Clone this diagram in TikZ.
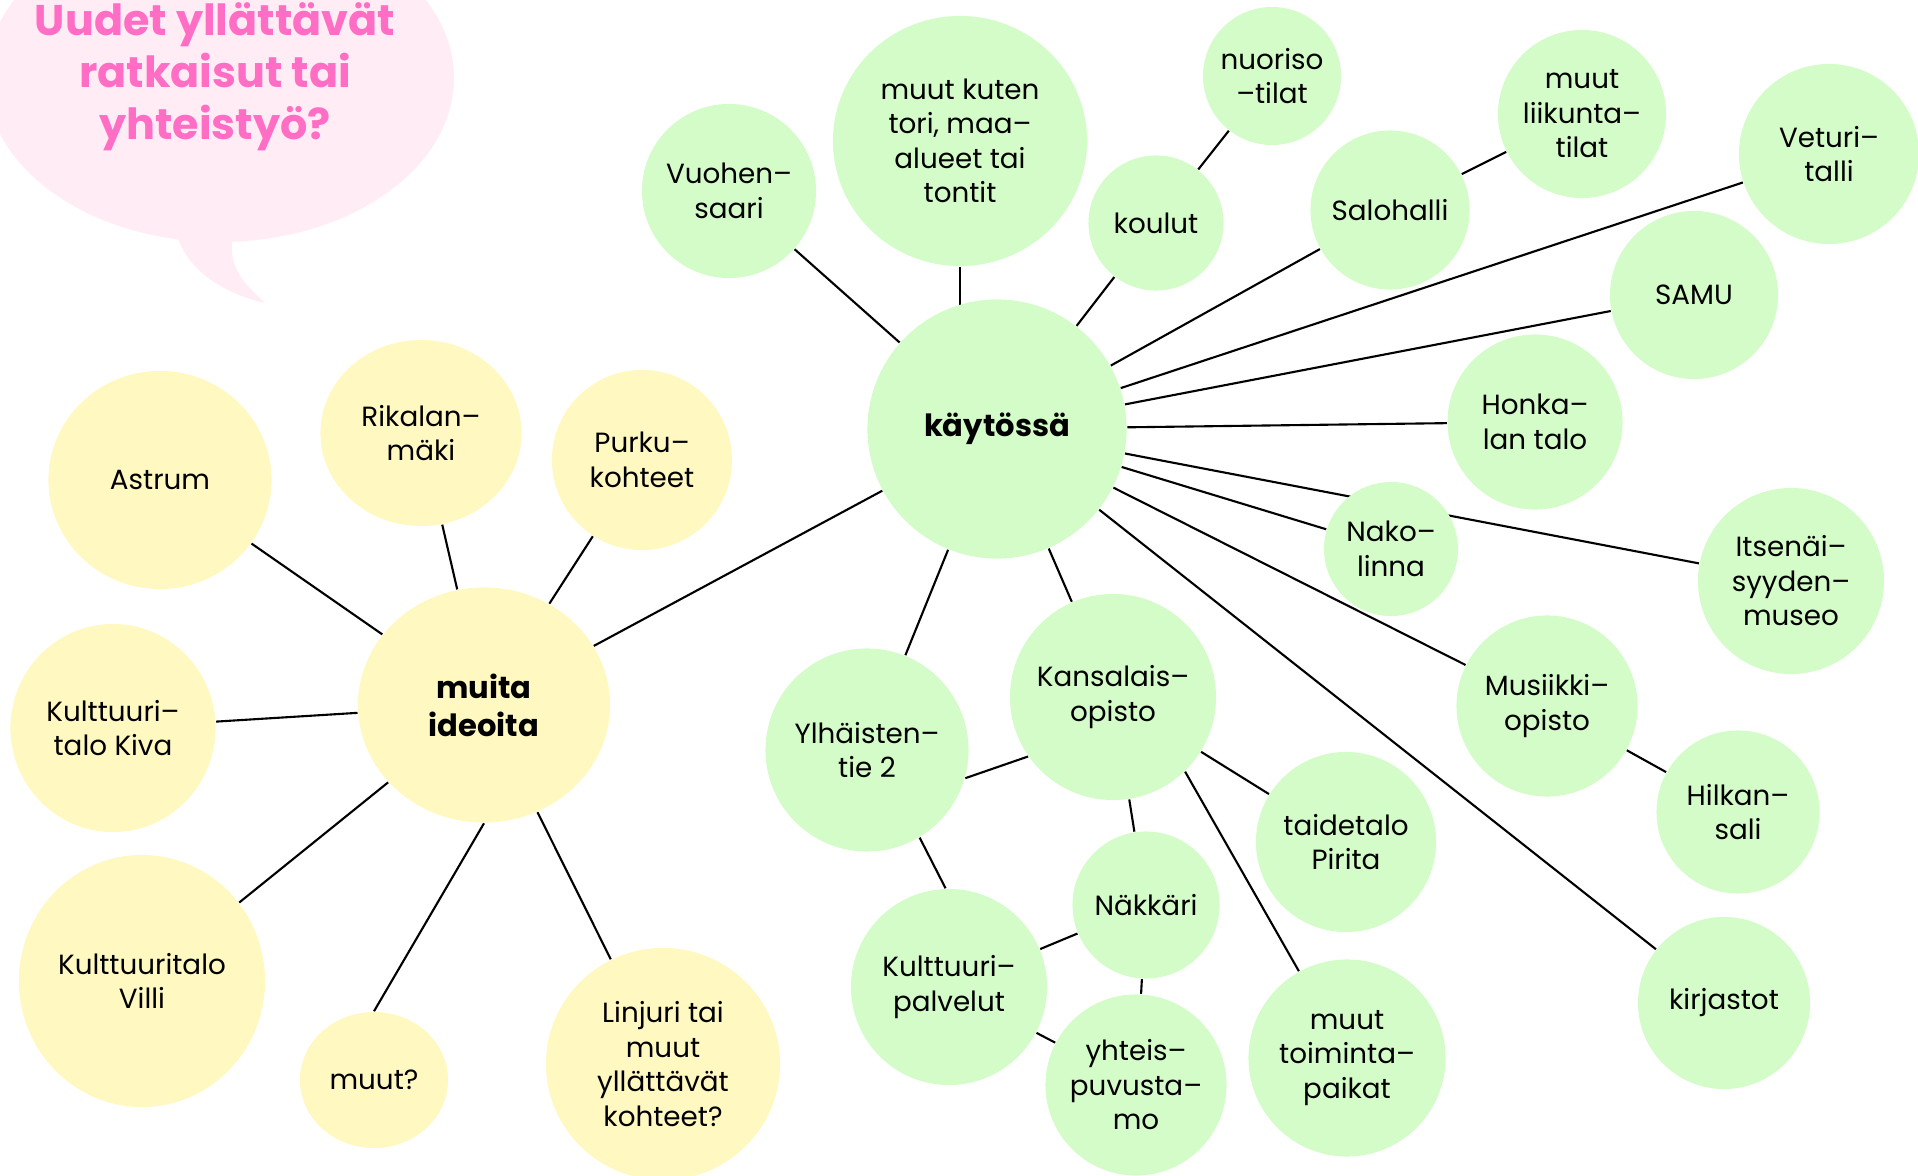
\documentclass[tikz,border=0pt]{standalone}
\usepackage{fontspec}
\setmainfont{Poppins}
\usetikzlibrary{shapes.geometric}
\pgfdeclarelayer{background}
\pgfsetlayers{background,main}

\definecolor{ballgreen}{RGB}{212,252,200}
\definecolor{ballyellow}{RGB}{255,248,192}
\definecolor{bubblepink}{RGB}{255,236,244}
\definecolor{titlepink}{RGB}{255,110,196}

\tikzset{
    ball/.style={ellipse, inner sep=-3pt, align=center, font=\fontsize{7.9}{9.8}\selectfont},
    gr/.style={ball, fill=ballgreen},
    yl/.style={ball, fill=ballyellow},
    hub/.style={font=\fontsize{8.7}{10.8}\selectfont\bfseries},
    link/.style={line width=0.6pt, black}
}

\begin{document}
\begin{tikzpicture}[x=0.01cm, y=-0.01cm]
        \useasboundingbox (0,0) rectangle (1918,1176);
        \clip (0,0) rectangle (1918,1176);

        % speech bubble
        \fill[bubblepink] (220,78) ellipse [x radius=234, y radius=164];
        \fill[bubblepink] (177,236) .. controls (190,275) and (230,295) .. (265,303)
            .. controls (240,280) and (228,265) .. (233,236) -- cycle;
        \node[align=center, text=titlepink, inner sep=0pt,
              font=\fontsize{12.2}{14.8}\selectfont\bfseries] (title) at (215,77)
            {Uudet yllättävät\\ratkaisut tai\\yhteistyö?};

        % muita ideoita
        \node[yl, hub, minimum width=2.52cm, minimum height=2.35cm] (muita) at (484,705) {muita\\ideoita};
        \node[yl, minimum width=2.23cm, minimum height=2.18cm] (astr) at (160,480) {Astrum};
        \node[yl, minimum width=2.01cm, minimum height=1.86cm] (rika) at (421,433) {Rikalan–\\mäki};
        \node[yl, minimum size=1.80cm] (purk) at (642,460) {Purku–\\kohteet};
        \node[yl, minimum width=2.05cm, minimum height=2.08cm] (kiva) at (113,728) {Kulttuuri–\\talo Kiva};
        \node[yl, minimum width=2.46cm, minimum height=2.52cm] (vill) at (142,981) {Kulttuuritalo\\Villi};
        \node[yl, minimum width=1.48cm, minimum height=1.36cm] (muut) at (374,1080) {muut?};
        \node[yl, minimum width=2.34cm, minimum height=2.32cm] (linj) at (663,1064) {Linjuri tai\\muut\\yllättävät\\kohteet?};

        % käytössä
        \node[gr, hub, minimum size=2.59cm] (kay) at (997,429) {käytössä};
        \node[gr, minimum size=1.74cm] (vuoh) at (729,191) {Vuohen–\\saari};
        \node[gr, minimum width=2.54cm, minimum height=2.50cm] (tori) at (960,141) {muut kuten\\tori, maa–\\alueet tai\\tontit};
        \node[gr, minimum size=1.35cm] (koul) at (1156,223) {koulut};
        \node[gr, minimum size=1.38cm] (nuor) at (1272,76) {nuoriso\\–tilat};
        \node[gr, minimum size=1.59cm] (salo) at (1390,210) {Salohalli};
        \node[gr, minimum size=1.68cm] (liik) at (1582,114) {muut\\liikunta–\\tilat};
        \node[gr, minimum size=1.80cm] (vetu) at (1829,154) {Veturi–\\talli};
        \node[gr, minimum size=1.68cm] (samu) at (1694,295) {SAMU};
        \node[gr, minimum size=1.75cm] (honk) at (1535,422) {Honka–\\lan talo};
        \node[gr, minimum size=1.34cm] (nako) at (1391,549) {Nako–\\linna};
        \node[gr, minimum size=1.86cm] (itse) at (1791,581) {Itsenäi–\\syyden–\\museo};
        \node[gr, minimum size=1.81cm] (musi) at (1547,706) {Musiikki–\\opisto};
        \node[gr, minimum size=1.63cm] (hilk) at (1738,812) {Hilkan–\\sali};
        \node[gr, minimum size=1.72cm] (kirj) at (1724,1003) {kirjastot};
        \node[gr, minimum size=2.06cm] (kans) at (1113,697) {Kansalais–\\opisto};
        \node[gr, minimum size=2.03cm] (ylha) at (867,750) {Ylhäisten–\\tie 2};
        \node[gr, minimum size=1.80cm] (taid) at (1346,842) {taidetalo\\Pirita};
        \node[gr, minimum size=1.47cm] (nakk) at (1146,905) {Näkkäri};
        \node[gr, minimum size=1.96cm] (kpal) at (949,987) {Kulttuuri–\\palvelut};
        \node[gr, minimum size=1.81cm] (yhte) at (1136,1085) {yhteis–\\puvusta–\\mo};
        \node[gr, minimum size=1.97cm] (mtoi) at (1347,1058) {muut\\toiminta–\\paikat};

        \begin{pgfonlayer}{background}
        \foreach \from / \to in {kay/vuoh,kay/koul,kay/salo,kay/vetu,kay/samu,kay/honk,
                                 kay/nako,kay/itse,kay/musi,kay/kirj,kay/kans,kay/ylha,kay/muita}
            \draw[link] (\from) -- (\to);
        \draw[link] (tori.south) -- (tori.south |- kay.center);

        \foreach \from / \to in {koul/nuor,salo/liik,musi/hilk,kans/taid,kans/nakk,
                                 nakk/kpal,nakk/yhte,kpal/yhte}
            \draw[link] (\from) -- (\to);
        \draw[link] (kans.-46) -- (mtoi.119);
        \draw[link] (ylha.-16) -- (kans.215);
        \draw[link] (ylha.-59) -- (kpal.92);

        \foreach \to in {astr,rika,purk,kiva,vill,linj}
            \draw[link] (muita) -- (\to);
        \draw[link] (muita.south) -- (muut.north);
        \end{pgfonlayer}
\end{tikzpicture}
\end{document}
